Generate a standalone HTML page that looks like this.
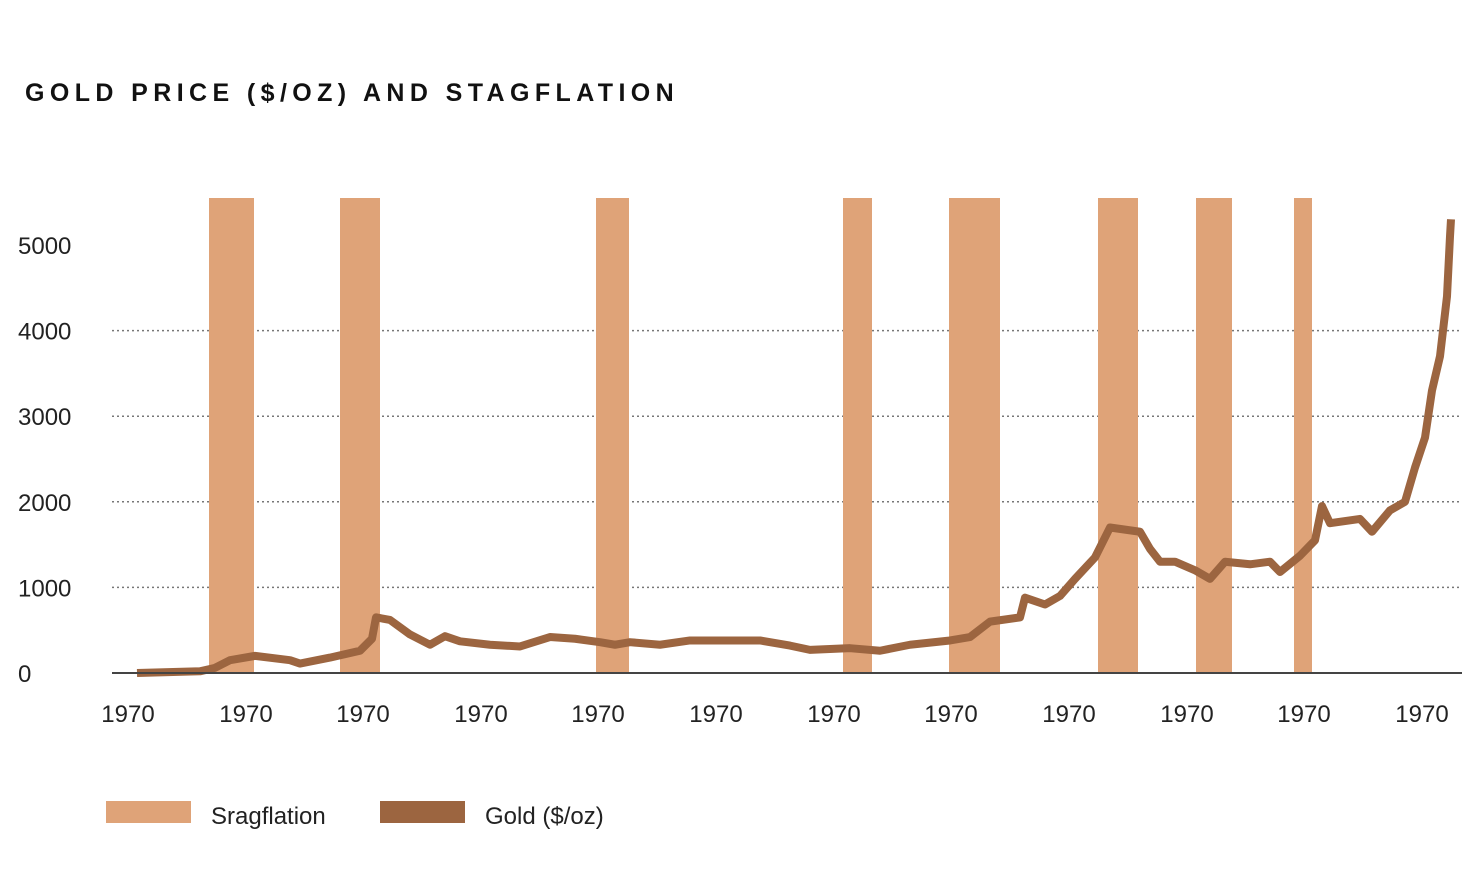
<!DOCTYPE html>
<html><head><meta charset="utf-8"><style>
body{margin:0;background:#fff;width:1476px;height:888px;overflow:hidden;font-family:"Liberation Sans",sans-serif}
</style></head><body>
<svg width="1476" height="888" id="c">
<text x="25" y="101" font-size="25" font-weight="bold" letter-spacing="5.4" fill="#111">GOLD PRICE ($/OZ) AND STAGFLATION</text>
<g id="grid"></g><g id="bars"></g><g id="line"></g><g id="axes"></g>
<g>
<rect x="106" y="801" width="85" height="22" fill="#dfa378"/>
<text x="211" y="824" font-size="24" fill="#222">Sragflation</text>
<rect x="380" y="801" width="85" height="22" fill="#9c6540"/>
<text x="485" y="824" font-size="24" fill="#222">Gold ($/oz)</text>
</g>
</svg>
<script>
const yTicks=[0,1000,2000,3000,4000,5000];
const xTickLabels=["1970","1970","1970","1970","1970","1970","1970","1970","1970","1970","1970","1970"];
const xTickPos=[16,134,251,369,486,604,722,839,957,1075,1192,1310];
const barStart=[97,228,484,731,837,986,1084,1182];
const barEnd=[142,268,517,760,888,1026,1120,1200];
const goldT=[25,88,103,118,143,178,188,218,248,260,264,278,298,318,333,348,378,408,438,463,488,503,518,548,578,648,678,698,738,768,798,838,858,878,908,913,933,948,963,983,998,1028,1038,1048,1063,1083,1098,1113,1138,1158,1168,1188,1203,1210,1218,1248,1260,1278,1293,1303,1313,1320,1328,1335,1338,1339];
const goldV=[0,20,60,150,200,150,110,180,260,400,650,620,450,330,430,370,330,310,420,400,360,330,360,330,380,380,320,270,290,260,330,380,420,600,650,880,800,900,1100,1350,1700,1650,1450,1300,1300,1200,1100,1300,1270,1300,1180,1370,1550,1950,1750,1800,1650,1900,2000,2400,2750,3300,3700,4400,5100,5300];
const NS="http://www.w3.org/2000/svg";
const X=t=>112+t, Y=v=>673-v*0.0856;
function mk(tag,attrs,parent){const e=document.createElementNS(NS,tag);for(const k in attrs)e.setAttribute(k,attrs[k]);parent.appendChild(e);return e;}
const grid=document.getElementById('grid'),bars=document.getElementById('bars'),line=document.getElementById('line'),axes=document.getElementById('axes');
yTicks.forEach(v=>{
 if(v>0&&v<5000){const g=mk('line',{x1:112,x2:1462,y1:Y(v),y2:Y(v),stroke:'#777','stroke-width':1.5,'stroke-dasharray':'2 3'},grid);
 
 }
 const t=mk('text',{x:18,y:Y(v)+9,'font-size':24,fill:'#222'},axes);t.textContent=v;
 
 
});
barStart.forEach((s,i)=>{const r=mk('rect',{x:X(s),y:198,width:barEnd[i]-s,height:475,fill:'#dfa378'},bars);
 
 });
const d=goldT.map((t,i)=>(i?'L':'M')+X(t)+' '+Y(goldV[i])).join(' ');
const p=mk('path',{d:d,fill:'none',stroke:'#9c6540','stroke-width':8,'stroke-linejoin':'round'},line);


const ax=mk('line',{x1:112,x2:1462,y1:673,y2:673,stroke:'#444','stroke-width':2},axes);


xTickLabels.forEach((l,i)=>{const t=mk('text',{x:X(xTickPos[i]),y:722,'font-size':24,fill:'#222','text-anchor':'middle'},axes);t.textContent=l;
 
 });
</script>
</body></html>
